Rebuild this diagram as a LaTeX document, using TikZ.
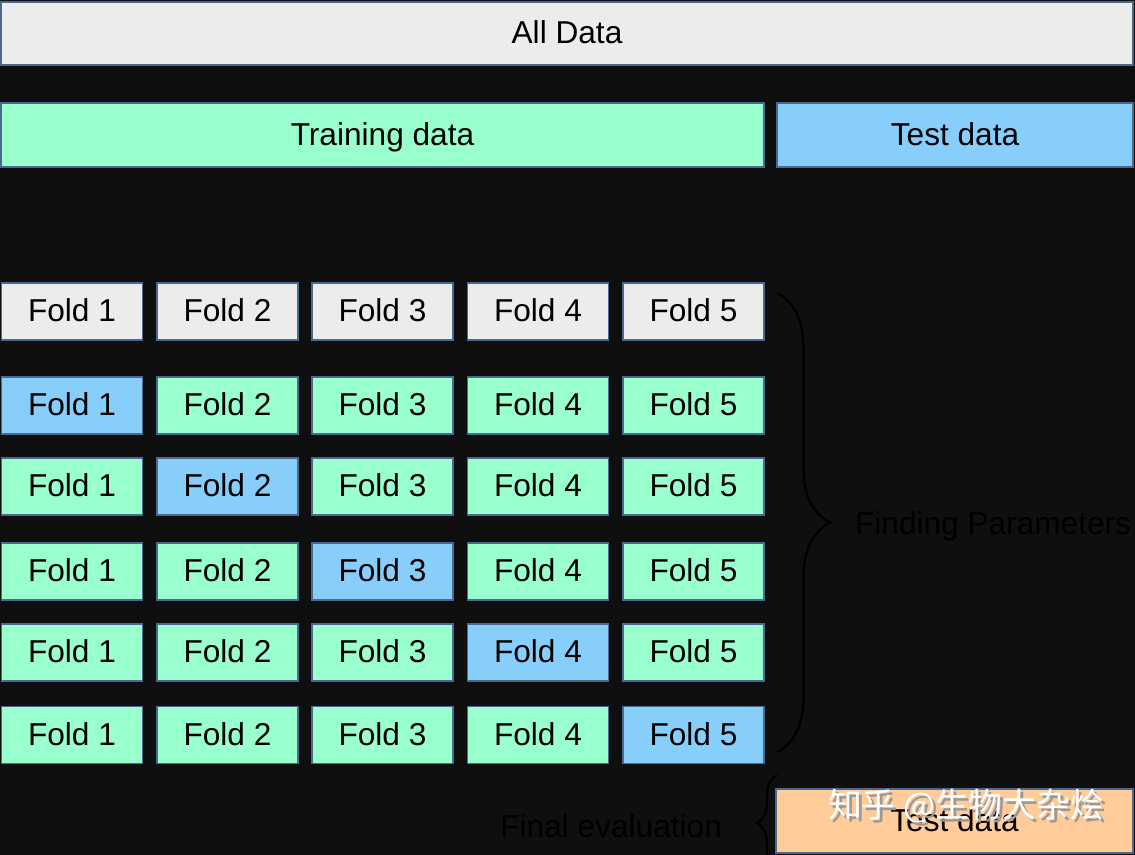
\documentclass[tikz,border=0pt]{standalone}
\usepackage{fontspec}
\setmainfont{Liberation Sans}
\newfontfamily\cjk{Noto Sans CJK SC}
\usepackage{xcolor}
\usepackage{tikz}
\usetikzlibrary{decorations.pathreplacing}

\definecolor{bgdark}{HTML}{0F0F0F}
\definecolor{allgray}{HTML}{ECECEC}
\definecolor{traingreen}{HTML}{99FFCC}
\definecolor{testblue}{HTML}{87CEFA}
\definecolor{evalorange}{HTML}{FFCC99}
\definecolor{edgeblue}{HTML}{4A6890}

\tikzset{
    databox/.style={draw=edgeblue, line width=0.4pt, inner sep=0pt, text=black,
        text height=0.58em, text depth=0pt, font=\fontsize{9}{10}\selectfont},
    foldbox/.style={databox, minimum width=1.41cm, minimum height=0.57cm},
    darklabel/.style={text=black, inner sep=0pt, font=\fontsize{9}{10}\selectfont},
    bracestyle/.style={decorate, draw=black, line width=0.6pt},
    markfont/.style={inner sep=0pt, font=\cjk\fontsize{9.6}{11}\selectfont}
}

\begin{document}
\begin{tikzpicture}
        \fill[bgdark] (0, 0) rectangle (11.35, -8.55);
        \clip (0, 0) rectangle (11.35, -8.55);

        \node[databox, fill=allgray, minimum width=11.32cm, minimum height=0.63cm] (alldata) at (5.67, -0.335) {All Data};
        \node[databox, fill=traingreen, minimum width=7.63cm, minimum height=0.64cm] (train) at (3.825, -1.35) {Training data};
        \node[databox, fill=testblue, minimum width=3.56cm, minimum height=0.64cm] (test) at (9.55, -1.35) {Test data};

        % first row grey, then one blue fold per row
        \foreach \c/\x in {1/0.72, 2/2.275, 3/3.825, 4/5.38, 5/6.935} {
            \node[foldbox, fill=allgray] (fold0\c) at (\x, -3.115) {Fold \c};
            \foreach \r/\y in {1/-4.055, 2/-4.865, 3/-5.715, 4/-6.525, 5/-7.35} {
                \ifnum\r=\c \def\foldfill{testblue}\else \def\foldfill{traingreen}\fi
                \node[foldbox, fill=\foldfill] (fold\r\c) at (\x, \y) {Fold \c};
            }
        }

        \coordinate (fpTop) at (7.77, -2.93);
        \coordinate (fpBot) at (7.77, -7.52);
        \draw[bracestyle, decoration={brace, amplitude=5.3mm}] (fpTop) -- node[darklabel, anchor=west, xshift=7.7mm, yshift=-0.4mm] (findparam) {Finding Parameters} (fpBot);

        \node[databox, fill=evalorange, minimum width=3.57cm, minimum height=0.64cm] (final) at (9.545, -8.21) {Test data};
        \coordinate (feBot) at (7.77, -8.71);
        \coordinate (feTop) at (7.77, -7.75);
        \draw[bracestyle, decoration={brace, amplitude=2mm}] (feBot) -- node[darklabel, anchor=east, xshift=-5.4mm, yshift=-0.3mm] (finaleval) {Final evaluation} (feTop);

        \node[markfont, text=gray!80] (markshade) at (9.69, -8.09) {知乎 @生物大杂烩};
        \node[markfont, text=white] (mark) at (9.66, -8.06) {知乎 @生物大杂烩};
    \end{tikzpicture}
\end{document}
